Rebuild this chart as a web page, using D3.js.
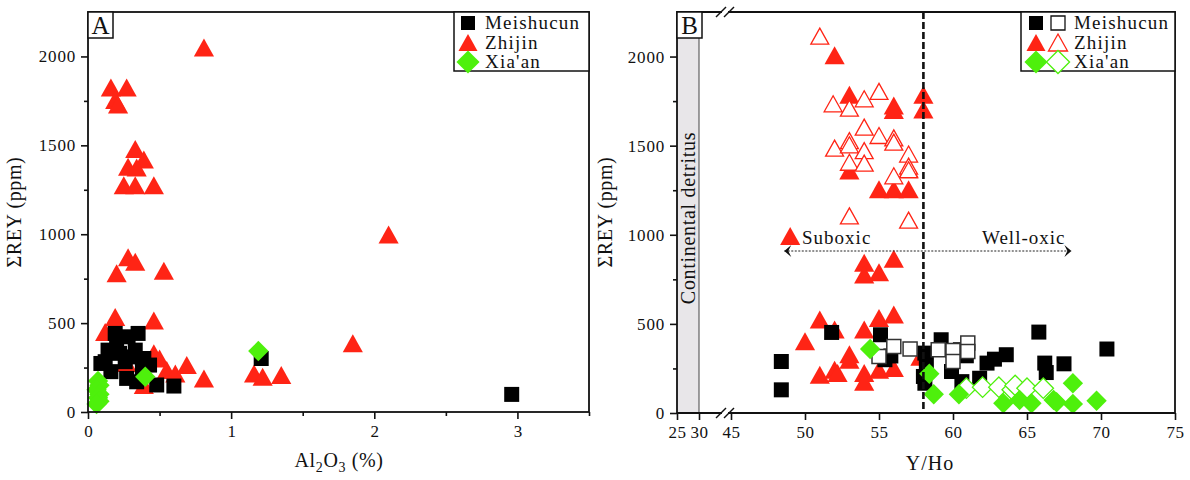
<!DOCTYPE html>
<html>
<head>
<meta charset="utf-8">
<script src="https://cdn.jsdelivr.net/npm/d3@7"></script>
<style>
  body { margin: 0; background: #fff; }
  svg text { font-family: "Liberation Serif", serif; fill: #111; }
</style>
</head>
<body>
<svg id="chart" width="1190" height="480"></svg>
<script>
// ---- panel A data: Al2O3 (%) vs sum REY (ppm)
const aMeiX = [0.19,0.28,0.35,0.14,0.22,0.33,0.39,0.12,0.26,0.43,0.16,0.27,0.34,0.48,0.60,0.09,0.30,0.20,0.38,1.21,2.96];
const aMeiY = [442,423,442,348,330,348,301,283,283,264,227,189,170,152,146,273,310,370,250,301,99];
const aZhiX = [0.81,0.16,0.27,0.19,0.21,0.33,0.39,0.28,0.34,0.25,0.33,0.46,0.28,0.33,0.20,0.53,0.19,0.46,0.12,0.46,0.50,0.55,0.61,0.69,0.81,0.39,0.27,1.16,1.22,1.35,1.85,2.10];
const aZhiY = [2050,1825,1825,1755,1730,1480,1420,1380,1375,1275,1275,1275,870,845,780,795,535,515,450,331,301,236,217,264,189,152,275,217,198,208,387,998];
const aXiaX = [0.07,0.08,0.06,0.08,0.07,0.08,0.06,0.40,1.19];
const aXiaY = [175,150,125,100,80,60,45,198,343];

// ---- panel B data: Y/Ho vs sum REY (ppm), filled and open symbols
const bMeiFillX = [48.4,48.4,51.8,55.1,55.4,55.8,58.1,58.0,58.1,58.2,59.2,60.5,60.9,59.9,60.6,61.8,62.3,62.8,63.6,65.8,66.2,66.3,67.5,70.4];
const bMeiFillY = [289,130,452,439,299,320,336,205,167,280,411,355,321,233,176,195,280,302,327,454,280,227,276,359];
const bMeiOpenX = [55.0,56.0,57.1,59.0,60.0,60.0,61.0,61.0];
const bMeiOpenY = [317,373,359,355,351,289,393,345];
const bZhiFillX = [52.0,53.0,56.0,56.0,58.0,58.0,53.0,55.0,56.0,57.0,57.0,49.0,54.0,54.0,55.0,56.0,51.0,52.0,50.0,54.0,55.0,56.0,53.0,53.0,51.0,52.0,52.2,54.0,54.0,55.0,56.0,57.8];
const bZhiFillY = [2007,1786,1726,1700,1786,1703,1360,1256,1256,1256,1370,993,843,777,790,866,524,468,402,468,533,552,299,330,214,242,225,224,176,242,252,315];
const bZhiOpenX = [51.0,51.9,53.0,54.0,55.0,54.0,53.0,52.0,53.0,53.0,54.0,54.0,55.0,56.0,56.0,57.0,57.0,57.0,56.0,53.0,57.0];
const bZhiOpenY = [2115,1735,1711,1763,1805,1604,1528,1486,1505,1407,1472,1402,1557,1544,1520,1453,1385,1365,1331,1106,1082];
const bXiaFillX = [54.4,58.4,58.7,60.4,63.4,64.5,65.3,66.8,67.0,68.1,68.1,69.7];
const bXiaFillY = [359,220,105,105,55,73,55,73,60,167,51,69];
const bXiaOpenX = [60.9,62.0,63.1,64.0,64.2,65.0,66.1];
const bXiaOpenY = [139,145,145,130,155,139,139];

const yTicks = [0, 500, 1000, 1500, 2000];
const aXTicks = [0, 1, 2, 3];
const bXTicks1 = [25, 30];
const bXTicks2 = [45, 50, 55, 60, 65, 70, 75];
const groups = ["Meishucun", "Zhijin", "Xia'an"];

const RED = "#ff2415", GREEN = "#4ef00c";

const svg = d3.select("#chart");
const fmt = d3.format("d");

// symbol paths, centred on the bounding box
function shape(type, s) {
    if (type === "square") { const h = s / 2; return `M${-h},${-h}H${h}V${h}H${-h}Z`; }
    if (type === "triangle") { const w = s * 0.56, h = s * 0.5; return `M0,${-h}L${w},${h}L${-w},${h}Z`; }
    const r = s * 0.68; return `M0,${-r}L${r},0L0,${r}L${-r},0Z`;
}

function drawPoints(g, xs, ys, xScale, yScale, type, size, fill, stroke, sw) {
    g.append("g").selectAll("path").data(xs.map((v, i) => [v, ys[i]])).join("path")
        .attr("transform", d => `translate(${xScale(d[0])},${yScale(d[1])})`)
        .attr("d", shape(type, size))
        .attr("fill", fill).attr("stroke", stroke).attr("stroke-width", sw);
}

function yAxis(g, y, x0) {
    g.append("g").attr("transform", `translate(${x0},0)`)
        .call(d3.axisLeft(y).tickValues(d3.range(250, 2250, 500)).tickSize(4).tickFormat("").tickSizeOuter(0))
        .call(a => a.select(".domain").remove());
    g.append("g").attr("transform", `translate(${x0},0)`)
        .call(d3.axisLeft(y).tickValues(yTicks).tickFormat(fmt).tickSize(7).tickPadding(5).tickSizeOuter(0))
        .call(a => a.select(".domain").remove())
        .call(a => a.selectAll("text").style("font-size", "17px").style("letter-spacing", "0.8px"));
    g.selectAll(".tick line").attr("stroke", "#111").attr("stroke-width", 1.6);
}

function labelBox(g, x, y, t) {
    g.append("rect").attr("x", x).attr("y", y).attr("width", 25).attr("height", 26)
        .attr("fill", "#fff").attr("stroke", "#111").attr("stroke-width", 1.5);
    g.append("text").attr("x", x + 12.5).attr("y", y + 22).attr("text-anchor", "middle")
        .style("font-size", "25px").text(t);
}

function legend(g, x, y, w, showOpen) {
    g.append("rect").attr("x", x).attr("y", y).attr("width", w).attr("height", 59)
        .attr("fill", "#fff").attr("stroke", "#111").attr("stroke-width", 1.5);
    const types = ["square", "triangle", "diamond"];
    const fills = ["#000", RED, GREEN];
    const sizes = [14, 17, 17];
    groups.forEach((name, i) => {
        const cy = y + 11 + i * 19.5;
        const mx = showOpen ? x + 15 : x + 14;
        g.append("path").attr("transform", `translate(${mx},${cy})`).attr("d", shape(types[i], sizes[i]))
            .attr("fill", fills[i]);
        let tx = x + 31;
        if (showOpen) {
            g.append("path").attr("transform", `translate(${mx + 22},${cy})`).attr("d", shape(types[i], sizes[i]))
                .attr("fill", "#fff").attr("stroke", i === 0 ? "#111" : fills[i]).attr("stroke-width", 1.3);
            tx = x + 53;
        }
        g.append("text").attr("x", tx).attr("y", cy + 6).style("font-size", "19px")
            .style("letter-spacing", "1.2px").text(name);
    });
}

// ================= panel A =================
const plotTop = 12, bottom = 412;
const yA = d3.scaleLinear().domain([0, 2250]).range([bottom, plotTop]);
const xA = d3.scaleLinear().domain([0, 3.5]).range([88, 589]);
const gA = svg.append("g");

drawPoints(gA, aZhiX, aZhiY, xA, yA, "triangle", 18, RED, "none", 0);
drawPoints(gA, aMeiX, aMeiY, xA, yA, "square", 15, "#000", "none", 0);
drawPoints(gA, aXiaX, aXiaY, xA, yA, "diamond", 15, GREEN, "none", 0);

gA.append("rect").attr("x", 88).attr("y", plotTop).attr("width", 589 - 88).attr("height", bottom - plotTop)
    .attr("fill", "none").attr("stroke", "#111").attr("stroke-width", 1.8);
yAxis(gA, yA, 88);
gA.append("g").attr("transform", `translate(0,${bottom})`)
    .call(d3.axisBottom(xA).tickValues([0.5, 1.5, 2.5, 3.5]).tickSize(4).tickFormat("").tickSizeOuter(0))
    .call(a => a.select(".domain").remove());
gA.append("g").attr("transform", `translate(0,${bottom})`)
    .call(d3.axisBottom(xA).tickValues(aXTicks).tickFormat(fmt).tickSize(7).tickPadding(6).tickSizeOuter(0))
    .call(a => a.select(".domain").remove())
    .call(a => a.selectAll("text").style("font-size", "17px"));
gA.selectAll(".tick line").attr("stroke", "#111").attr("stroke-width", 1.6);

labelBox(gA, 88, plotTop, "A");
legend(gA, 454, plotTop, 135, false);

gA.append("text").attr("transform", "translate(21,212) rotate(-90)").attr("text-anchor", "middle")
    .style("font-size", "20px").style("letter-spacing", "0.6px").text("ΣREY (ppm)");
const tA = gA.append("text").attr("x", 339).attr("y", 467).attr("text-anchor", "middle")
    .style("font-size", "20px").style("letter-spacing", "0.6px");
tA.append("tspan").text("Al");
tA.append("tspan").attr("dy", 5).style("font-size", "14px").text("2");
tA.append("tspan").attr("dy", -5).text("O");
tA.append("tspan").attr("dy", 5).style("font-size", "14px").text("3");
tA.append("tspan").attr("dy", -5).text(" (%)");

// ================= panel B =================
const bL = 677, bR = 1175, bBot = 413;
const yB = d3.scaleLinear().domain([0, 2250]).range([bBot, plotTop]);
const xB1 = d3.scaleLinear().domain([25, 35]).range([bL, bL + 44]);
const xB2 = d3.scaleLinear().domain([45, 75]).range([731, bR]);
const gB = svg.append("g");

// continental detritus band
gB.append("rect").attr("x", xB1(25)).attr("y", plotTop).attr("width", xB1(30) - xB1(25)).attr("height", bBot - plotTop)
    .attr("fill", "#e8e6e9");
gB.append("line").attr("x1", xB1(30)).attr("x2", xB1(30)).attr("y1", plotTop).attr("y2", bBot)
    .attr("stroke", "#444").attr("stroke-width", 1);
gB.append("text").attr("transform", `translate(${xB1(27.5) + 7},${218}) rotate(-90)`).attr("text-anchor", "middle")
    .style("font-size", "20px").style("letter-spacing", "0.7px").text("Continental detritus");

drawPoints(gB, bZhiFillX, bZhiFillY, xB2, yB, "triangle", 18, RED, "none", 0);
drawPoints(gB, bZhiOpenX, bZhiOpenY, xB2, yB, "triangle", 16, "#fff", RED, 1.3);
drawPoints(gB, bMeiFillX, bMeiFillY, xB2, yB, "square", 15, "#000", "none", 0);
drawPoints(gB, bMeiOpenX, bMeiOpenY, xB2, yB, "square", 14, "#fff", "#333", 1.5);
drawPoints(gB, bXiaOpenX, bXiaOpenY, xB2, yB, "diamond", 15, "#fff", GREEN, 1.3);
drawPoints(gB, bXiaFillX, bXiaFillY, xB2, yB, "diamond", 15, GREEN, "none", 0);

// boundary Y/Ho = 58
gB.append("line").attr("x1", xB2(58)).attr("x2", xB2(58)).attr("y1", plotTop).attr("y2", bBot)
    .attr("stroke", "#111").attr("stroke-width", 2.6).attr("stroke-dasharray", "7,3");

// suboxic / well-oxic arrow
const arrowY = 251;
gB.append("line").attr("x1", xB2(48.6)).attr("x2", xB2(68.0)).attr("y1", arrowY).attr("y2", arrowY)
    .attr("stroke", "#222").attr("stroke-width", 1).attr("stroke-dasharray", "2,1.5");
[[48.6, 1], [68.0, -1]].forEach(([v, dir]) => {
    const x = xB2(v);
    gB.append("path").attr("d", `M${x},${arrowY}L${x + 7 * dir},${arrowY - 6}L${x + 4 * dir},${arrowY}L${x + 7 * dir},${arrowY + 6}Z`)
        .attr("fill", "#111");
});
gB.append("text").attr("x", xB2(49.8)).attr("y", 244).style("font-size", "19px").style("letter-spacing", "1px").text("Suboxic");
gB.append("text").attr("x", xB2(67.6)).attr("y", 244).attr("text-anchor", "end").style("font-size", "19px")
    .style("letter-spacing", "1px").text("Well-oxic");

// frame with axis break
const brk1 = bL + 45, brk2 = 728;
gB.append("path").attr("d", `M${brk1},${plotTop}H${bL}V${bBot}H${brk1}M${brk2},${bBot}H${bR}V${plotTop}H${brk2}`)
    .attr("fill", "none").attr("stroke", "#111").attr("stroke-width", 1.8);
[plotTop, bBot].forEach(yy => {
    [brk1 - 1, brk2 + 1].forEach(xx => {
        gB.append("line").attr("x1", xx - 5).attr("x2", xx + 5).attr("y1", yy + 5).attr("y2", yy - 5)
            .attr("stroke", "#111").attr("stroke-width", 1.5);
    });
});

yAxis(gB, yB, bL);
[[xB1, bXTicks1], [xB2, bXTicks2]].forEach(([sc, tv]) => {
    gB.append("g").attr("transform", `translate(0,${bBot})`)
        .call(d3.axisBottom(sc).tickValues(tv).tickFormat(fmt).tickSize(7).tickPadding(6).tickSizeOuter(0))
        .call(a => a.select(".domain").remove())
        .call(a => a.selectAll("text").style("font-size", "17px").style("letter-spacing", "0.5px"));
});
gB.selectAll(".tick line").attr("stroke", "#111").attr("stroke-width", 1.6);

labelBox(gB, bL, plotTop, "B");
legend(gB, 1021, plotTop, 154, true);

gB.append("text").attr("transform", "translate(612,212) rotate(-90)").attr("text-anchor", "middle")
    .style("font-size", "20px").style("letter-spacing", "0.6px").text("ΣREY (ppm)");
gB.append("text").attr("x", 930).attr("y", 470).attr("text-anchor", "middle")
    .style("font-size", "20px").style("letter-spacing", "1px").text("Y/Ho");
</script>
</body>
</html>
